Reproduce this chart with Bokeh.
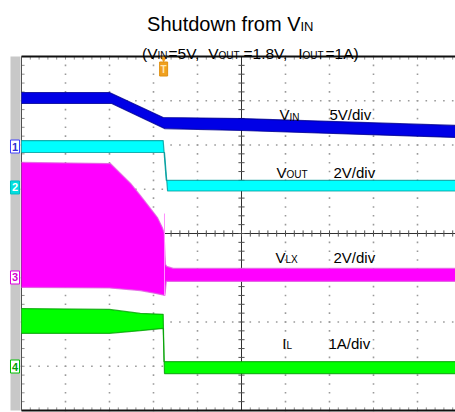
import numpy as np
from bokeh.plotting import figure
from bokeh.models import Range1d
from bokeh.core.properties import value
from bokeh.embed import file_html
from bokeh.resources import INLINE

# ---------------- data (time in divisions, values in V / A) ----------------
# channel ground offsets (in divisions from screen centre) and scale per division
vin_offset, vin_scale = 1.966, 5.0
vout_offset, vout_scale = 1.040, 2.0
vlx_offset, vlx_scale = -0.994, 2.0
il_offset, il_scale = -3.006, 1.0
trigger_t = 3.23

vin_t_hi = [0.0, 2.0, 3.22, 5.0, 9.9]
vin_hi = [6.10, 6.10, 3.28, 3.16, 2.37]
vin_t_lo = [0.0, 2.05, 3.25, 5.0, 9.9]
vin_lo = [4.86, 4.86, 2.03, 1.81, 1.02]

vout_t_hi = [0.0, 3.22, 3.29, 9.9]
vout_hi = [2.12, 2.12, 0.32, 0.32]
vout_t_lo = [0.0, 3.25, 3.32, 9.9]
vout_lo = [1.58, 1.58, -0.16, -0.16]

vlx_t_hi = [0.0, 2.02, 2.25, 2.48, 2.70, 2.93, 3.09, 3.20, 3.24, 3.27, 3.30, 3.45, 9.9]
vlx_hi = [5.20, 5.15, 4.70, 4.25, 3.71, 3.12, 2.71, 2.26, 2.03, 0.60, 0.50, 0.41, 0.41]
vlx_t_lo = [0.0, 2.0, 2.70, 3.05, 3.26, 3.29, 9.9]
vlx_lo = [-0.45, -0.47, -0.59, -0.72, -0.81, -0.18, -0.18]
vlx_spike_t = 3.25
vlx_spike = 2.89

il_t_hi = [0.0, 2.0, 2.7, 3.22, 3.24, 9.9]
il_hi = [1.31, 1.29, 1.20, 1.18, 0.11, 0.11]
il_t_lo = [0.0, 2.0, 2.7, 3.22, 3.25, 9.9]
il_lo = [0.75, 0.75, 0.81, 0.86, -0.16, -0.16]

channel_labels = ["1", "2", "3", "4"]

# ---------------- figure ----------------
W, H = 455, 412
p = figure(width=W, height=H, output_backend="svg", toolbar_location=None,
           x_range=Range1d((0 - 21) / 44.0, (W - 21) / 44.0),
           y_range=Range1d((233 - H) / 44.25, (233 - 0) / 44.25),
           x_axis_location=None, y_axis_location=None,
           min_border=0, outline_line_color=None)
p.grid.visible = False
p.background_fill_color = "white"
p.border_fill_color = "white"

FONT = value("Liberation Sans")

# grey channel-marker bar
p.quad(left=[-0.25], right=[-0.023], bottom=[-4.0], top=[4.0],
       fill_color="#c8c8c8", line_color=None)

# dotted graticule
gx = [1, 2, 3, 4, 6, 7, 8, 9]
gy_pts = np.round(np.arange(-4, 4.001, 0.2), 3)
vx, vy = np.meshgrid(gx, gy_pts)
gyl = [-3, -2, -1, 1, 2, 3]
gx_pts = np.round(np.arange(0, 10.001, 0.2), 3)
hx, hy = np.meshgrid(gx_pts, gyl)
p.scatter(np.concatenate([vx.ravel(), hx.ravel()]),
          np.concatenate([vy.ravel(), hy.ravel()]),
          marker="square", size=1.6, fill_color="#9a9a9a", line_color=None)

# border ticks
tx = gx_pts
p.segment(x0=tx, y0=[4.0] * len(tx), x1=tx, y1=[3.93] * len(tx), line_color="#909090", line_width=1)
p.segment(x0=tx, y0=[-4.0] * len(tx), x1=tx, y1=[-3.93] * len(tx), line_color="#909090", line_width=1)
p.segment(x0=[0.0] * len(gy_pts), y0=gy_pts, x1=[0.07] * len(gy_pts), y1=gy_pts, line_color="#909090", line_width=1)

# centre cross with ticks
p.segment(x0=[0, 5], y0=[0, -4], x1=[10, 5], y1=[0, 4], line_color="#303030", line_width=1)
p.segment(x0=tx, y0=[-0.07] * len(tx), x1=tx, y1=[0.07] * len(tx), line_color="#505050", line_width=1)
p.segment(x0=[4.93] * len(gy_pts), y0=gy_pts, x1=[5.07] * len(gy_pts), y1=gy_pts, line_color="#505050", line_width=1)

# frame lines
p.segment(x0=[0, 0], y0=[4.0, -4.0], x1=[10, 10], y1=[4.0, -4.0], line_color="#101010", line_width=2)
p.segment(x0=[0], y0=[-4.0], x1=[0], y1=[4.0], line_color="#505050", line_width=1)


def band(t_hi, hi, t_lo, lo, off, sc, fill, edge):
    yh = [off + v / sc for v in hi]
    yl = [off + v / sc for v in lo]
    p.patch(list(t_hi) + list(t_lo)[::-1], yh + yl[::-1], fill_color=fill, line_color=None)
    p.line(t_hi, yh, line_color=edge, line_width=1.2, line_alpha=0.8)
    p.line(t_lo, yl, line_color=edge, line_width=1.2, line_alpha=0.8)


band(vin_t_hi, vin_hi, vin_t_lo, vin_lo, vin_offset, vin_scale, "#0000e6", "#000090")
band(vout_t_hi, vout_hi, vout_t_lo, vout_lo, vout_offset, vout_scale, "#00ffff", "#009a9a")
band(vlx_t_hi, vlx_hi, vlx_t_lo, vlx_lo, vlx_offset, vlx_scale, "#ff00ff", "#e060e0")
p.segment(x0=[vlx_spike_t], y0=[vlx_offset + vlx_lo[4] / vlx_scale], x1=[vlx_spike_t],
          y1=[vlx_offset + vlx_spike / vlx_scale], line_color="#ff90ff", line_width=1)
band(il_t_hi, il_hi, il_t_lo, il_lo, il_offset, il_scale, "#00ff00", "#00a000")

# channel markers
offs = [vin_offset, vout_offset, vlx_offset, il_offset]
mfill = ["white", "#00e0e0", "white", "white"]
mline = ["#4040ff", "#00c0c0", "#e000e0", "#00c000"]
mtext = ["#3030d0", "white", "#d000d0", "#00a000"]
p.rect(x=[-0.148] * 4, y=offs, width=9, height=13, width_units="screen", height_units="screen",
       fill_color=mfill, line_color=mline, line_width=1)
p.text(x=[-0.148] * 4, y=offs, text=channel_labels, text_color=mtext, text_font=FONT,
       text_font_size=value("11px"), text_font_style="bold", text_align="center", text_baseline="middle")

# trigger marker
p.scatter([trigger_t], [(233 - 58) / 44.25], marker="inverted_triangle", size=7,
          fill_color="#f0a020", line_color=None)
p.rect(x=[trigger_t], y=[(233 - 68.5) / 44.25], width=8, height=14, width_units="screen",
       height_units="screen", fill_color="#f0a020", line_color="#e09010")
p.text(x=[trigger_t], y=[(233 - 68.5) / 44.25], text=["T"], text_color="#ffe6b0", text_font=FONT,
       text_font_size=value("10px"), text_font_style="bold", text_align="center", text_baseline="middle")


def X(px):
    return (px - 21) / 44.0


def Y(py):
    return (233 - py) / 44.25


def txt(px, py, s, size, align="left"):
    p.text(x=[X(px)], y=[Y(py)], text=[s], text_color="black", text_font=FONT,
           text_font_size=value(size), text_align=align, text_baseline="alphabetic")


# title
txt(300, 23, "Shutdown from V", "20px", "right")
txt(300, 26, "IN", "13px")

# subtitle
txt(157, 53, "(V", "15.5px", "right")
txt(157, 55, "IN", "10px")
txt(168, 53, "=5V,", "15.5px")
txt(218, 53, "V", "15.5px", "right")
txt(218, 55, "OUT", "10px")
txt(243, 53, "=1.8V,", "15.5px")
txt(302, 53, "I", "15.5px", "right")
txt(302, 55, "OUT", "10px")
txt(325, 53, "=1A)", "15.5px")

# channel labels
txt(289, 114, "V", "15px", "right")
txt(289, 117, "IN", "10px")
txt(329, 114, "5V/div", "15px")

txt(286, 172, "V", "15px", "right")
txt(286, 174, "OUT", "10px")
txt(333, 172, "2V/div", "15px")

txt(285, 257, "V", "15px", "right")
txt(285, 259, "LX", "10px")
txt(333, 257, "2V/div", "15px")

txt(286, 343, "I", "15px", "right")
txt(286, 345, "L", "10px")
txt(328, 343, "1A/div", "15px")

open("out.html", "w").write(file_html(p, INLINE))
